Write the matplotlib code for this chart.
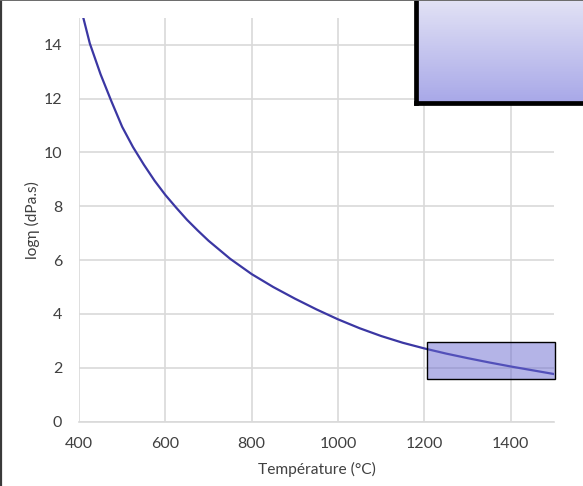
import numpy as np
import matplotlib.pyplot as plt
from matplotlib.patches import Rectangle
from matplotlib.lines import Line2D

# viscosity curve
temperature = [410, 425, 450, 475, 500, 525, 550, 575, 600, 625, 650, 675, 700,
               750, 800, 850, 900, 950, 1000, 1050, 1100, 1150, 1200, 1250,
               1300, 1350, 1400, 1450, 1500]
log_viscosity = [15.0, 14.05, 12.9, 11.9, 10.95, 10.2, 9.55, 8.95, 8.42, 7.95,
                 7.5, 7.1, 6.72, 6.05, 5.48, 5.0, 4.57, 4.17, 3.8, 3.47, 3.18,
                 2.93, 2.72, 2.53, 2.36, 2.2, 2.05, 1.91, 1.77]

# shaded working range box
box_t = [1205, 1503]
box_v = [1.57, 2.95]

x_ticks = [400, 600, 800, 1000, 1200, 1400]
y_ticks = [0, 2, 4, 6, 8, 10, 12, 14]

plt.rcParams['font.family'] = ['Lato', 'DejaVu Sans']
text_col = '#404040'
grid_col = '#d9d9d9'

fig = plt.figure(figsize=(5.83, 4.86), dpi=100)
ax = fig.add_axes([0.1355, 0.1323, 0.8148, 0.8311])

ax.plot(temperature, log_viscosity, color='#3b37a3', lw=1.6, zorder=3,
        solid_joinstyle='round')

ax.add_patch(Rectangle((box_t[0], box_v[0]), box_t[1] - box_t[0], box_v[1] - box_v[0],
                       facecolor='#6a6ad0', alpha=0.5, edgecolor='none', zorder=4,
                       clip_on=False))
ax.add_patch(Rectangle((box_t[0], box_v[0]), box_t[1] - box_t[0], box_v[1] - box_v[0],
                       facecolor='none', edgecolor='black', lw=1.0, zorder=5,
                       clip_on=False))

ax.set_xlim(400, 1500)
ax.set_ylim(0, 15)
ax.set_xticks(x_ticks)
ax.set_yticks(y_ticks)
ax.grid(True, color=grid_col, lw=1.2)
ax.set_axisbelow(True)
for side in ['top', 'right', 'left']:
    ax.spines[side].set_visible(False)
ax.spines['bottom'].set_color(grid_col)
ax.spines['bottom'].set_linewidth(1.2)
ax.tick_params(length=0, labelsize=11.5, labelcolor=text_col)
ax.tick_params(axis='x', pad=11)
ax.tick_params(axis='y', pad=12)

ax.set_xlabel('Température (°C)', fontsize=11.2, color=text_col, labelpad=8)
ax.set_ylabel('logη (dPa.s)', fontsize=11.2, color=text_col, labelpad=3)

# gradient box in the top right corner
bx = fig.add_axes([416 / 583, 1 - 103 / 486, 200 / 583, 110 / 486])
grad = np.linspace(0, 1, 100).reshape(-1, 1)
c_top = np.array([230, 230, 246]) / 255
c_bot = np.array([168, 168, 232]) / 255
img = c_top + (c_bot - c_top) * grad[:, :, None]
bx.imshow(img, aspect='auto', extent=[0, 1, 0, 1])
bx.set_xticks([])
bx.set_yticks([])
for s in bx.spines.values():
    s.set_linewidth(3.4)
    s.set_color('black')

# outer frame of the picture (only left and top visible)
fig.add_artist(Line2D([0.001, 0.001], [0, 1], color='#3a3a3a', lw=1.6,
                      transform=fig.transFigure))
fig.add_artist(Line2D([0, 1], [0.999, 0.999], color='#6a6a6a', lw=1.4,
                      transform=fig.transFigure))

fig.savefig('out.png', dpi=100)
